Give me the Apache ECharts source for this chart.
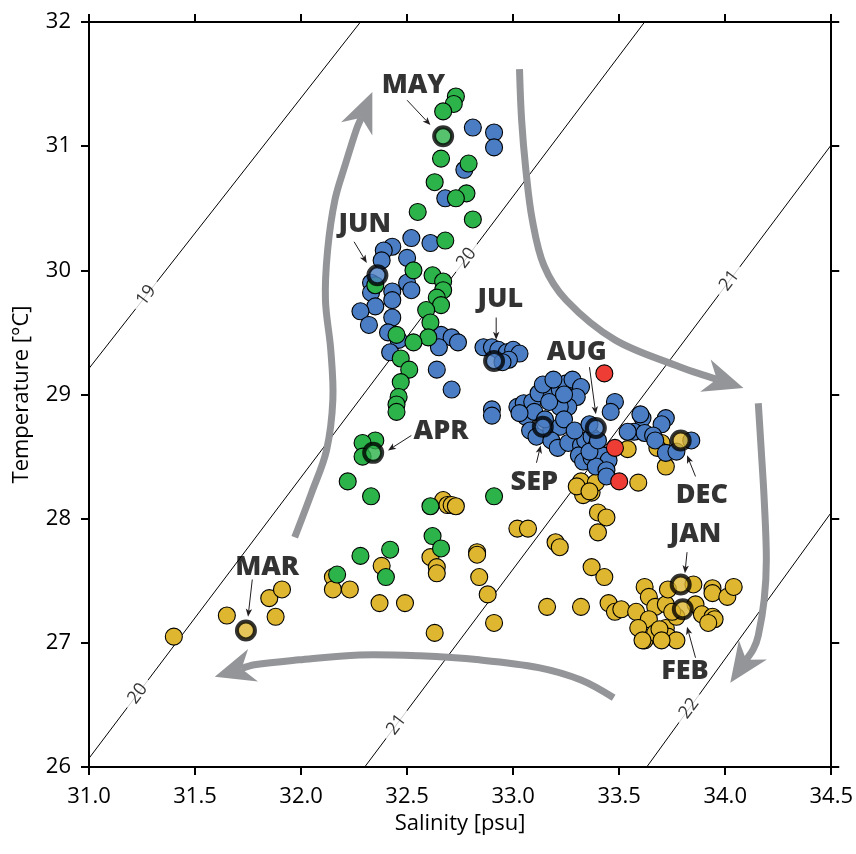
<!DOCTYPE html>
<html><head><meta charset="utf-8">
<script src="https://cdn.jsdelivr.net/npm/echarts@6/dist/echarts.min.js"></script>
<style>html,body{margin:0;padding:0;background:#fff}#c{width:856px;height:854px}</style>
</head><body><div id="c"></div><script>
// ---------- data ----------
const xTicks = [31.0, 31.5, 32.0, 32.5, 33.0, 33.5, 34.0, 34.5];
const yTicks = [26, 27, 28, 29, 30, 31, 32];

// isopycnal (sigma-t) lines: endpoints [salinity, temperature]
const sigma19 = [[31.0, 29.21], [32.28, 32.0]];
const sigma20 = [[31.0, 26.07], [33.62, 32.0]];
const sigma21 = [[32.30, 26.0], [34.5, 31.01]];
const sigma22 = [[33.63, 26.0], [34.5, 28.05]];
const sigmaNames = ['19', '20', '21', '22'];
// labels on isopycnals: [line index, salinity]
const sigmaLabelAt = [[0, 31.27], [1, 31.23], [1, 32.78], [2, 32.45], [2, 34.02], [3, 33.83]];

const yellowPts = [
[31.40,27.05],[31.65,27.22],[31.85,27.36],[31.91,27.43],[31.88,27.21],
[32.15,27.53],[32.15,27.43],[32.23,27.43],[32.37,27.32],[32.49,27.32],[32.63,27.08],
[32.38,27.62],[32.61,27.69],[32.64,27.61],[32.64,27.56],
[32.67,28.15],[32.69,28.11],[32.71,28.11],[32.73,28.10],
[32.83,27.73],[32.83,27.71],[32.84,27.53],[32.88,27.39],[32.91,27.16],
[33.02,27.92],[33.07,27.92],[33.20,27.81],[33.22,27.77],[33.16,27.29],[33.32,27.29],
[33.32,28.30],[33.37,28.21],[33.33,28.19],[33.30,28.26],[33.39,28.29],[33.36,28.22],
[33.40,28.05],[33.44,28.01],[33.40,27.89],[33.37,27.61],[33.43,27.53],[33.45,27.32],[33.48,27.25],
[33.54,28.56],[33.59,28.29],[33.70,28.61],[33.68,28.57],[33.72,28.42],
[33.51,27.27],[33.58,27.25],[33.62,27.45],[33.64,27.37],[33.67,27.29],[33.64,27.19],[33.62,27.02],
[33.67,27.08],[33.72,27.12],[33.73,27.05],[33.77,27.02],[33.72,27.31],[33.73,27.43],[33.85,27.47],
[33.86,27.31],[33.89,27.23],[33.94,27.21],[33.95,27.19],[33.92,27.16],[33.94,27.44],[33.94,27.40],
[34.01,27.37],[34.04,27.45],[33.77,27.21],[33.75,27.25],[33.69,27.11],[33.59,27.12],[33.61,27.02],[33.70,27.02]
];

const bluePts = [
[32.81,31.15],[32.91,31.11],[32.91,30.99],[32.77,30.81],[32.68,30.58],
[32.52,30.26],[32.61,30.22],[32.43,30.19],[32.39,30.16],[32.50,30.10],[32.38,30.08],
[32.33,29.90],[32.50,29.90],[32.52,29.84],[32.43,29.83],[32.33,29.82],[32.43,29.76],
[32.35,29.71],[32.28,29.67],[32.43,29.62],[32.32,29.56],[32.41,29.50],[32.46,29.44],
[32.42,29.34],[32.66,29.48],[32.71,29.46],[32.74,29.42],[32.65,29.38],[32.64,29.20],[32.71,29.04],
[32.86,29.38],[32.90,29.38],[32.93,29.36],[32.97,29.34],[33.00,29.36],[33.03,29.33],[32.98,29.28],[32.95,29.26],
[32.90,28.88],[32.90,28.83],
[33.02,28.90],[33.05,28.93],[33.09,28.94],[33.12,29.01],[33.18,28.98],[33.22,29.04],[33.25,29.09],
[33.28,29.12],[33.32,29.06],[33.30,28.98],[33.26,28.90],[33.22,28.90],[33.17,28.94],[33.06,28.82],
[33.10,28.86],[33.03,28.85],[33.08,28.71],[33.11,28.66],[33.18,28.71],[33.22,28.74],[33.18,28.63],
[33.21,28.57],[33.26,28.61],[33.32,28.59],[33.31,28.51],[33.34,28.63],[33.37,28.66],[33.33,28.46],
[33.37,28.49],[33.39,28.58],[33.42,28.51],[33.45,28.47],[33.39,28.42],[33.44,28.39],[33.44,28.34],
[33.14,29.08],[33.19,29.12],[33.24,29.00],[33.15,28.80],[33.24,28.80],[33.29,28.71],[33.36,28.76],
[33.36,28.54],[33.40,28.63],
[33.48,28.94],[33.46,28.86],[33.61,28.81],[33.57,28.70],[33.62,28.69],[33.60,28.84],[33.54,28.70],
[33.72,28.81],[33.70,28.76],[33.66,28.67],[33.67,28.63],[33.72,28.53],[33.77,28.54],[33.84,28.63]
];

const greenPts = [
[32.73,31.40],[32.72,31.34],[32.67,31.28],[32.66,30.90],[32.79,30.86],[32.63,30.71],
[32.78,30.62],[32.73,30.58],[32.55,30.47],[32.81,30.41],[32.68,30.24],
[32.35,29.88],[32.53,30.00],[32.62,29.96],[32.67,29.91],[32.67,29.84],[32.64,29.78],
[32.66,29.72],[32.59,29.68],[32.61,29.58],[32.60,29.46],[32.53,29.42],[32.45,29.48],
[32.47,29.29],[32.51,29.20],[32.47,29.10],[32.46,28.98],[32.45,28.92],[32.45,28.86],
[32.35,28.63],[32.29,28.61],[32.29,28.50],[32.22,28.30],[32.33,28.18],[32.91,28.18],
[32.61,28.10],[32.62,27.86],[32.66,27.76],[32.42,27.75],[32.28,27.70],[32.17,27.55],[32.40,27.53]
];

const redPts = [[33.43,29.17],[33.48,28.57],[33.50,28.30]];

// highlighted monthly means: name, salinity, temperature, colour group
const monthNames = ['MAY','JUN','JUL','AUG','SEP','APR','MAR','DEC','JAN','FEB'];
const monthPts = [[32.67,31.08],[32.36,29.96],[32.91,29.27],[33.39,28.73],[33.14,28.74],
                  [32.34,28.53],[31.74,27.10],[33.79,28.63],[33.79,27.47],[33.80,27.27]];
const monthGroup = ['g','b','b','b','b','g','y','y','y','y'];
const monthLabelPos = [[32.53,31.49],[32.30,30.37],[32.94,29.77],[33.30,29.34],[33.10,28.29],
                       [32.66,28.70],[31.84,27.61],[33.89,28.19],[33.86,27.87],[33.81,26.77]];
const monthArrowFrom = [[32.50,31.37],[32.25,30.23],[32.92,29.62],[33.36,29.22],[33.11,28.45],
                        [32.52,28.67],[31.77,27.51],[33.86,28.34],[33.82,27.73],[33.86,26.88]];
const monthArrowTo = [[32.61,31.17],[32.31,30.06],[32.92,29.44],[33.39,28.84],[33.13,28.59],
                      [32.41,28.55],[31.75,27.21],[33.82,28.51],[33.81,27.56],[33.82,27.13]];

// seasonal cycle arrows (path points, last is tip)
const cycleArrowUp = [[31.97,27.85],[32.05,28.21],[32.12,28.55],[32.15,28.96],[32.14,29.36],
                      [32.115,29.76],[32.125,30.16],[32.16,30.57],[32.21,30.86],[32.26,31.13],[32.336,31.436]];
const cycleArrowTopRight = [[33.03,31.62],[33.04,31.21],[33.06,30.81],[33.09,30.41],[33.145,30.04],
                      [33.25,29.76],[33.48,29.44],[33.79,29.22],[33.91,29.15],[34.086,29.053]];
const cycleArrowRight = [[34.156,28.93],[34.17,28.55],[34.184,28.15],[34.194,27.67],[34.184,27.35],
                      [34.156,27.06],[34.133,26.95],[34.024,26.678]];
const cycleArrowBottom = [[33.474,26.557],[33.32,26.70],[33.12,26.80],[32.84,26.863],[32.56,26.895],
                      [32.275,26.903],[31.99,26.863],[31.78,26.823],[31.593,26.726]];

// ---------- chart ----------
const FONT = 'Open Sans';
const INK = '#000';
const COL = { y: '#dfb62f', b: '#4a7dc3', g: '#2cb34a', r: '#ee3d35' };
const chart = echarts.init(document.getElementById('c'), null, { renderer: 'canvas' });

const sigmaLines = [sigma19, sigma20, sigma21, sigma22];
function tOnLine(li, s) {
  const L = sigmaLines[li];
  return L[0][1] + (s - L[0][0]) * (L[1][1] - L[0][1]) / (L[1][0] - L[0][0]);
}

function arrowRenderer(paths, o) {
  return function (params, api) {
    const px = paths[params.dataIndex].map(p => api.coord(p));
    const tip = px[px.length - 1], base = px[px.length - 2];
    let dx = tip[0] - base[0], dy = tip[1] - base[1];
    const L = Math.hypot(dx, dy); const ux = dx / L, uy = dy / L; const nx = -uy, ny = ux;
    const bx = tip[0] - ux * o.hl, by = tip[1] - uy * o.hl;
    const notch = [tip[0] - ux * (o.hl - o.notch), tip[1] - uy * (o.hl - o.notch)];
    const shaft = px.slice(0, -1);
    if (o.shortShaft) shaft.length = 1;
    shaft.push(notch);
    return {
      type: 'group',
      children: [
        { type: 'polyline', shape: { points: shaft, smooth: o.smooth },
          style: { stroke: o.color, lineWidth: o.lw, fill: null, lineCap: 'butt' } },
        { type: 'polygon', shape: { points: [tip, [bx + nx * o.hw, by + ny * o.hw], notch, [bx - nx * o.hw, by - ny * o.hw]] },
          style: { fill: o.color, stroke: null } }
      ]
    };
  };
}

const cyclePaths = [cycleArrowUp, cycleArrowTopRight, cycleArrowRight, cycleArrowBottom];
const monthArrowPaths = monthArrowFrom.map((p, i) => [p, monthArrowTo[i]]);

function pointSeries(pts, color, z) {
  return {
    type: 'scatter', data: pts, symbol: 'circle', symbolSize: 17, z: z, silent: true,
    itemStyle: { color: color, borderColor: '#000', borderWidth: 1.1, opacity: 1 }
  };
}

const axisLineStyle = { show: true, onZero: false, lineStyle: { color: INK, width: 2 } };
const axisTickStyle = { show: true, inside: false, length: 8, lineStyle: { color: INK, width: 2 } };
const labelStyle = { fontSize: 22, color: INK, fontFamily: FONT };

const option = {
  animation: false,
  backgroundColor: '#fff',
  grid: { left: 89, right: 23, top: 22, bottom: 87, containLabel: false },
  xAxis: [
    { type: 'value', position: 'bottom', min: xTicks[0], max: xTicks[xTicks.length - 1], interval: 0.5,
      axisLine: axisLineStyle, axisTick: axisTickStyle, splitLine: { show: false },
      axisLabel: Object.assign({ margin: 19, formatter: v => v.toFixed(1) }, labelStyle),
      name: 'Salinity [psu]', nameLocation: 'middle', nameGap: 46,
      nameTextStyle: { fontSize: 22, color: INK, fontFamily: FONT } },
    { type: 'value', position: 'top', min: xTicks[0], max: xTicks[xTicks.length - 1], interval: 0.5,
      axisLine: axisLineStyle, axisTick: axisTickStyle, splitLine: { show: false }, axisLabel: { show: false } }
  ],
  yAxis: [
    { type: 'value', position: 'left', min: yTicks[0], max: yTicks[yTicks.length - 1], interval: 1,
      axisLine: axisLineStyle, axisTick: axisTickStyle, splitLine: { show: false },
      axisLabel: Object.assign({ margin: 18 }, labelStyle),
      name: 'Temperature [°C]', nameLocation: 'middle', nameGap: 56, nameRotate: 90,
      nameTextStyle: { fontSize: 22, color: INK, fontFamily: FONT } },
    { type: 'value', position: 'right', min: yTicks[0], max: yTicks[yTicks.length - 1], interval: 1,
      axisLine: axisLineStyle, axisTick: axisTickStyle, splitLine: { show: false }, axisLabel: { show: false } }
  ],
  series: [
    ...sigmaLines.map((L, i) => ({
      type: 'line', name: 'sigma' + sigmaNames[i], data: L, showSymbol: false, symbol: 'none', z: 1, silent: true,
      lineStyle: { color: INK, width: 1 }
    })),
    {
      type: 'scatter', z: 2, silent: true, symbolSize: 1, itemStyle: { color: 'rgba(0,0,0,0)' },
      data: sigmaLabelAt.map(([li, s]) => ({ name: sigmaNames[li], value: [s, tOnLine(li, s)] })),
      label: { show: true, position: 'inside', formatter: '{b}', rotate: 53, fontSize: 18, color: INK,
               fontFamily: FONT, backgroundColor: '#fff', padding: [0, 7] }
    },
    {
      type: 'custom', z: 3, silent: true, clip: false,
      data: cyclePaths.map(p => p[0]),
      renderItem: arrowRenderer(cyclePaths, { color: '#939598', lw: 7, hl: 40, hw: 17, notch: 12, smooth: 0.35 })
    },
    pointSeries(yellowPts, COL.y, 4),
    pointSeries(bluePts, COL.b, 5),
    pointSeries(greenPts, COL.g, 6),
    pointSeries(redPts, COL.r, 7),
    {
      type: 'scatter', z: 8, silent: true, symbol: 'circle', symbolSize: 18,
      data: monthPts.map((p, i) => ({ value: p, itemStyle: { color: COL[monthGroup[i]], borderColor: '#000', borderWidth: 4 } })),
      itemStyle: { borderColor: '#000', borderWidth: 4 }
    },
    {
      type: 'custom', z: 9, silent: true, clip: false,
      data: monthArrowPaths.map(p => p[0]),
      renderItem: arrowRenderer(monthArrowPaths, { color: '#231f20', lw: 1, hl: 8, hw: 3.2, notch: 2, smooth: 0, shortShaft: true })
    },
    {
      type: 'scatter', z: 9, silent: true, symbolSize: 1, itemStyle: { color: 'rgba(0,0,0,0)' },
      data: monthLabelPos.map((p, i) => ({ name: monthNames[i], value: p })),
      label: { show: true, position: 'inside', formatter: '{b}', fontSize: 27, fontWeight: 800,
               color: '#000', fontFamily: FONT }
    }
  ]
};
chart.setOption(option);
</script></body></html>
